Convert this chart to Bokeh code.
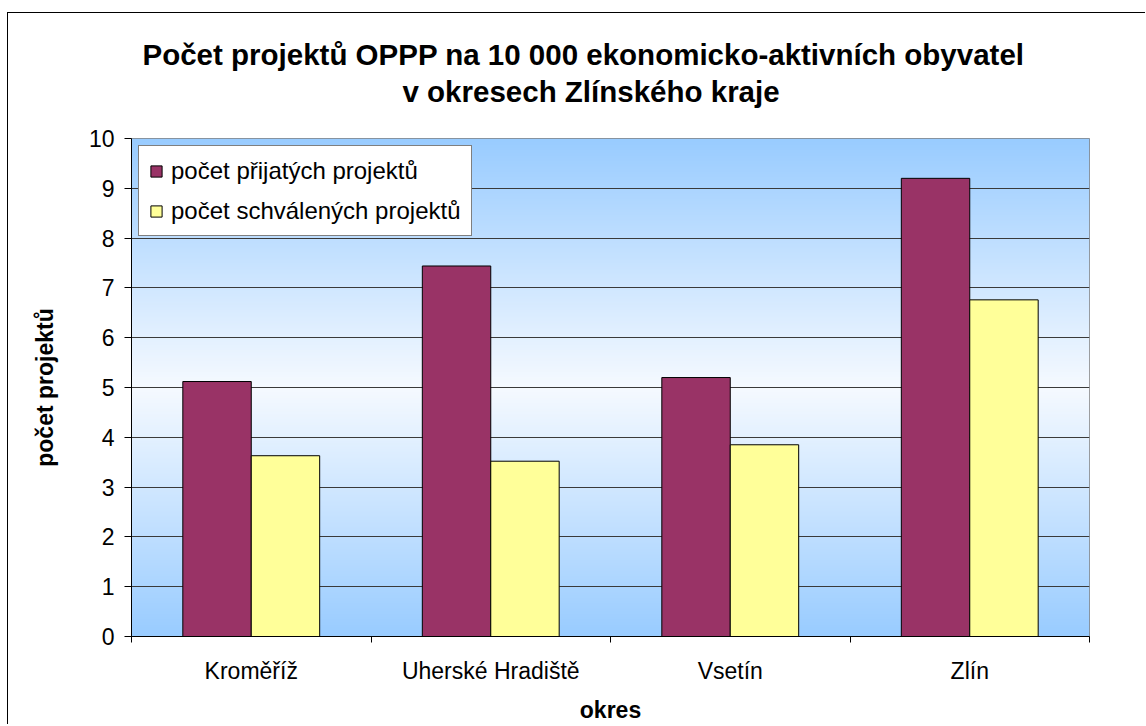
import numpy as np
from bokeh.plotting import figure
from bokeh.models import (ColumnDataSource, Range1d, LinearAxis, FixedTicker, Title)
from bokeh.transform import dodge
from bokeh.embed import file_html
from bokeh.resources import INLINE

# ---- data ----
districts = ["Kroměříž", "Uherské Hradiště", "Vsetín", "Zlín"]
accepted = [5.12, 7.44, 5.20, 9.20]
approved = [3.63, 3.52, 3.85, 6.76]
y_ticks = [0, 1, 2, 3, 4, 5, 6, 7, 8, 9, 10]
series_names = ["počet přijatých projektů", "počet schválených projektů"]
title_lines = ["Počet projektů OPPP na 10 000 ekonomicko-aktivních obyvatel",
               "v okresech Zlínského kraje"]

FONT = "Liberation Sans"

n = len(districts)
centers = [i + 0.5 for i in range(n)]
source = ColumnDataSource(dict(district=districts, xc=centers, accepted=accepted, approved=approved))

p = figure(width=1138, height=712, output_backend="svg", toolbar_location=None,
           x_range=Range1d(0, n), y_range=Range1d(0, 10),
           x_axis_location=None, y_axis_location="left",
           min_border_left=123, min_border_right=57, min_border_top=125, min_border_bottom=89)
# outer chart frame (left and top edges are visible in the reference)
p.styles = {"margin-left": "7px", "margin-top": "12px",
            "border-left": "1px solid #000000", "border-top": "1px solid #000000"}

p.background_fill_color = "white"
p.border_fill_color = "white"
p.outline_line_color = "#808080"
p.outline_line_width = 1

# background gradient (blue at edges, light at centre)
N = 500
v = np.linspace(0, 10, N)
t = np.abs(v - 5) / 5.0
edge = np.array([0x99, 0xCC, 0xFF], dtype=float)
center = np.array([0xF6, 0xFA, 0xFF], dtype=float)
rgb = center[None, :] * (1 - t[:, None]) + edge[None, :] * t[:, None]
img = np.empty((N, 1), dtype=np.uint32)
view = img.view(dtype=np.uint8).reshape((N, 1, 4))
view[:, 0, 0] = rgb[:, 0].astype(np.uint8)
view[:, 0, 1] = rgb[:, 1].astype(np.uint8)
view[:, 0, 2] = rgb[:, 2].astype(np.uint8)
view[:, 0, 3] = 255
p.image_rgba(image=[img], x=0, y=0, dw=n, dh=10, level="image")

# grid
p.xgrid.visible = False
p.ygrid.ticker = FixedTicker(ticks=y_ticks)
p.ygrid.grid_line_color = "#3a3a3a"
p.ygrid.grid_line_width = 1

# bars
bw = 1 / 3.5
p.vbar(x=dodge("xc", -bw / 2), top="accepted", width=bw, source=source,
       fill_color="#993366", line_color="black", line_width=1, legend_label=series_names[0])
p.vbar(x=dodge("xc", bw / 2), top="approved", width=bw, source=source,
       fill_color="#FFFF99", line_color="black", line_width=1, legend_label=series_names[1])

# y axis
ya = p.yaxis[0]
ya.ticker = FixedTicker(ticks=y_ticks)
ya.major_tick_out = 7
ya.major_tick_in = 0
ya.minor_tick_line_color = None
ya.axis_line_color = "black"
ya.major_tick_line_color = "black"
ya.major_label_text_font = FONT
ya.major_label_text_font_size = "23px"
ya.major_label_text_color = "black"
ya.major_label_standoff = 10
ya.axis_label = "počet projektů"
ya.axis_label_text_font = FONT
ya.axis_label_text_font_size = "23px"
ya.axis_label_text_font_style = "bold"
ya.axis_label_text_color = "black"
ya.axis_label_standoff = 28

# x axis: ticks at category boundaries
tick_axis = LinearAxis(ticker=FixedTicker(ticks=list(range(n + 1))),
                       major_tick_out=6, major_tick_in=0, minor_tick_line_color=None,
                       axis_line_color="black", major_tick_line_color="black",
                       major_label_overrides={i: "" for i in range(n + 1)},
                       major_label_text_font_size="1px", major_label_standoff=0)
p.add_layout(tick_axis, "below")

# x axis: category labels
cat_axis = LinearAxis(ticker=FixedTicker(ticks=centers),
                      major_label_overrides={c: d for c, d in zip(centers, districts)},
                      axis_line_color=None, major_tick_line_color=None, minor_tick_line_color=None,
                      major_tick_out=0, major_tick_in=0,
                      major_label_text_font=FONT, major_label_text_font_size="23px",
                      major_label_text_color="black", major_label_standoff=15,
                      axis_label="okres", axis_label_text_font=FONT,
                      axis_label_text_font_size="23px", axis_label_text_font_style="bold",
                      axis_label_text_color="black", axis_label_standoff=10)
p.add_layout(cat_axis, "below")

# titles: spacer nearest the frame, then line 2, then line 1
p.add_layout(Title(text=" ", text_font=FONT, text_font_size="10px", standoff=16), "above")
p.add_layout(Title(text=title_lines[1], align="left", offset=271, standoff=4,
                   text_font=FONT, text_font_size="29.5px", text_font_style="bold",
                   text_color="black"), "above")
p.add_layout(Title(text=title_lines[0], align="left", offset=11, standoff=0,
                   text_font=FONT, text_font_size="29.5px", text_font_style="bold",
                   text_color="black"), "above")

# legend
lg = p.legend[0]
lg.location = "top_left"
lg.margin = 7
lg.padding = 10
lg.spacing = 11
lg.label_height = 29
lg.glyph_width = 14
lg.glyph_height = 14
lg.label_standoff = 8
lg.label_text_font = FONT
lg.label_text_font_size = "24px"
lg.label_text_color = "black"
lg.border_line_color = "black"
lg.border_line_width = 1
lg.background_fill_color = "white"
lg.background_fill_alpha = 1

open("out.html", "w").write(file_html(p, INLINE))
